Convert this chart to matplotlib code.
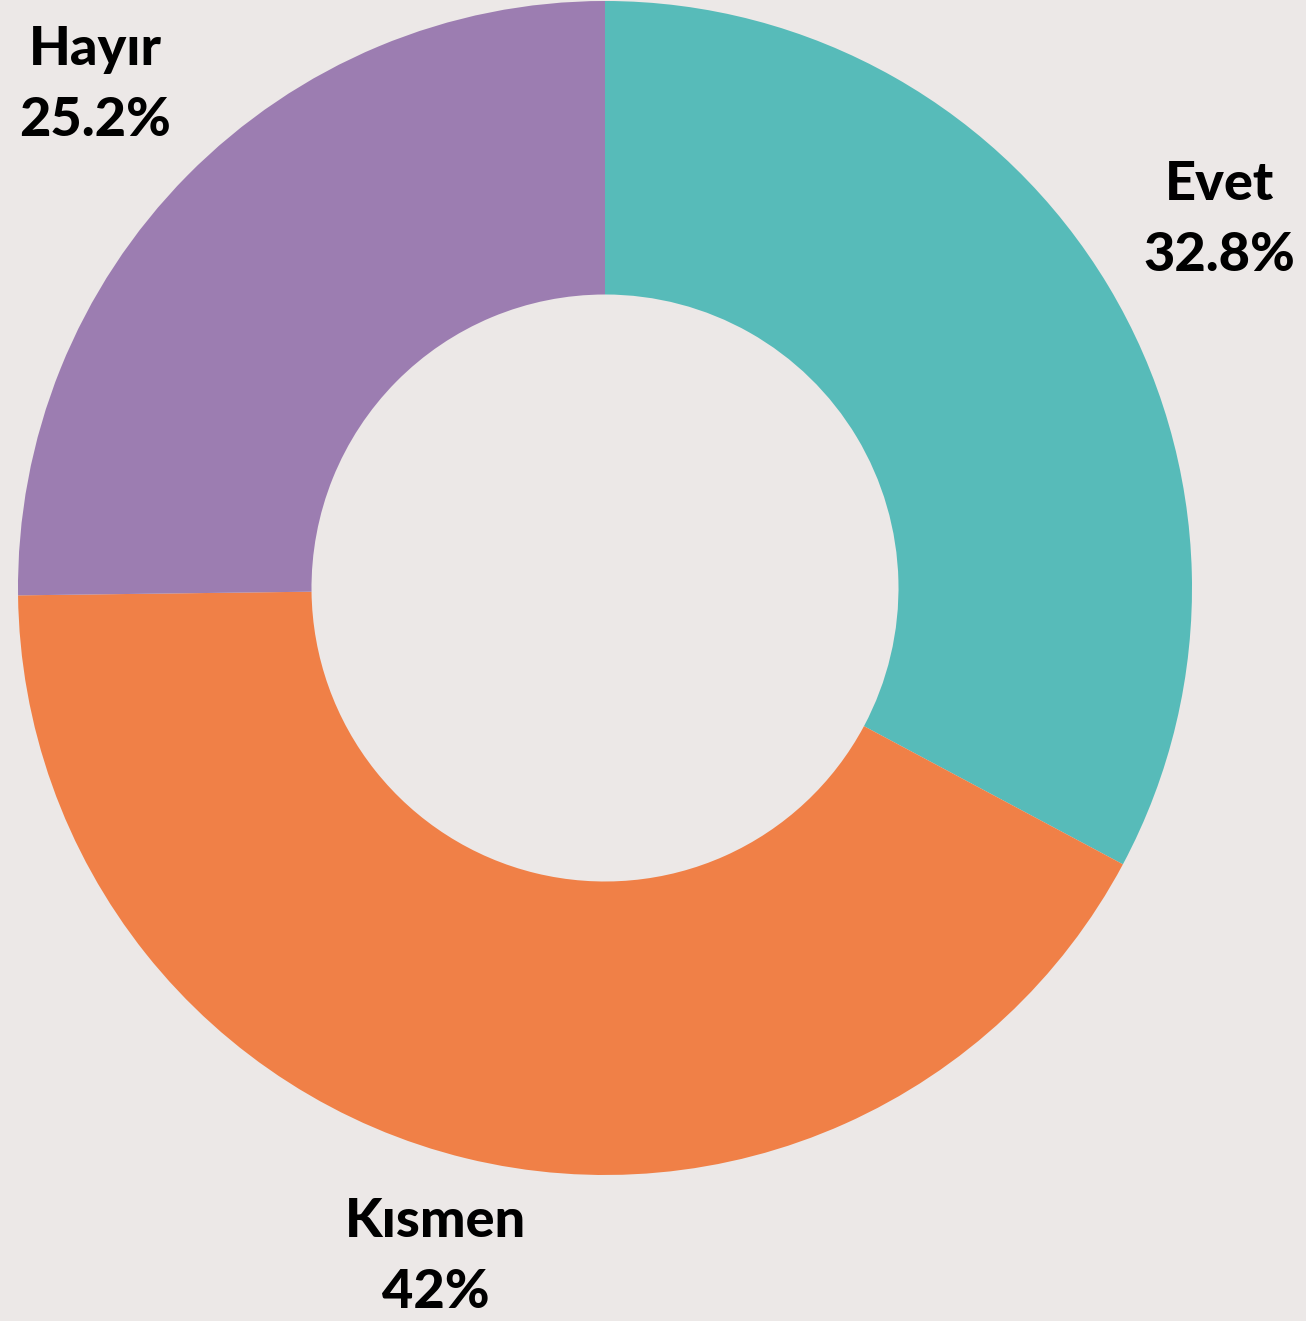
import numpy as np
import matplotlib
matplotlib.use("Agg")
import matplotlib.pyplot as plt

BG = '#ECE8E7'
TEAL = '#57BBB9'
ORANGE = '#F08047'
PURPLE = '#9C7DB1'

labels = ['Evet', 'Kısmen', 'Hayır']
values = [32.8, 42, 25.2]
pct_text = ['32.8%', '42%', '25.2%']
colors = [TEAL, ORANGE, PURPLE]

W, H = 1306, 1321
cx, cy, R = 605, 588, 587  # pixels, from top-left

fig = plt.figure(figsize=(W / 100, H / 100), dpi=100, facecolor=BG)
ax = fig.add_axes([0, 0, 1, 1])
ax.set_facecolor(BG)

wedges, _ = ax.pie(values, colors=colors, startangle=90, counterclock=False,
                   radius=1, wedgeprops=dict(width=0.5, linewidth=0))

ax.set_xlim(-cx / R, (W - cx) / R)
ax.set_ylim(-(H - cy) / R, cy / R)
ax.set_aspect('equal')
ax.axis('off')

# labels outside the ring at each slice's mid-angle
ymin = -(H - cy) / R
for w, lab, pct in zip(wedges, labels, pct_text):
    ang = np.deg2rad((w.theta1 + w.theta2) / 2)
    x, y = 1.22 * np.cos(ang), 1.22 * np.sin(ang)
    y = max(y, ymin + 64 / R)  # keep the bottom label inside the figure
    ax.text(x, y, lab + '\n' + pct, ha='center', va='center',
            fontsize=39, fontweight=900, family='Lato',
            linespacing=1.55, color='black', clip_on=False)

fig.savefig('out.png', dpi=100, facecolor=BG)
